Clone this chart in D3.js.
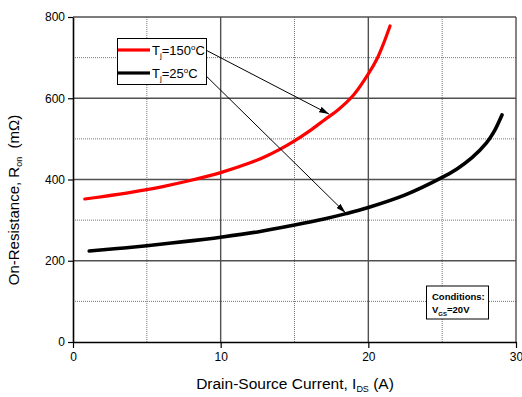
<!DOCTYPE html>
<html>
<head>
<meta charset="utf-8">
<script src="https://cdn.jsdelivr.net/npm/d3@7"></script>
<style>
  html, body { margin: 0; padding: 0; background: #fff; }
  svg { display: block; font-family: "Liberation Sans", Arial, sans-serif; }
</style>
</head>
<body>
<svg id="chart" width="522" height="397"></svg>
<script>
// On-resistance vs drain-source current at two junction temperatures
const current150 = [0.8, 2, 4, 6, 8, 10, 12, 13, 14, 15, 16, 17, 18, 19, 20, 20.6, 21, 21.47];
const ron150     = [352, 358, 369, 382, 398, 417, 441, 456, 474, 495, 519, 546, 573, 608, 660, 698, 732, 778];

const current25 = [1.1, 3, 5, 7.5, 10, 12.5, 15, 17, 18.5, 20, 22.5, 25, 26, 27, 28, 28.5, 29.05];
const ron25     = [224, 230, 237, 247, 258, 271, 288, 303, 316, 331, 362, 405, 426, 453, 490, 517, 559];

const xTicks = [0, 10, 20, 30];
const yTicks = [0, 200, 400, 600, 800];
const xMinor = [5, 15, 25];
const yMinor = [100, 300, 500, 700];

// Annotation arrow targets (current, resistance)
const arrow150 = [17.34, 561];
const arrow25  = [18.45, 318];

const margin = { top: 17, right: 6, bottom: 55, left: 73 };
const W = 522, H = 397;
const svg = d3.select("#chart");

const x = d3.scaleLinear().domain([0, 30]).range([margin.left, W - margin.right]);
const y = d3.scaleLinear().domain([0, 800]).range([H - margin.bottom, margin.top]);

// grid
const grid = svg.append("g");
grid.selectAll(".vmin").data(xMinor).join("line")
  .attr("x1", d => x(d)).attr("x2", d => x(d))
  .attr("y1", y(0)).attr("y2", y(800))
  .attr("stroke", "#777").attr("stroke-width", 1).attr("stroke-dasharray", "1,1");
grid.selectAll(".hmin").data(yMinor).join("line")
  .attr("x1", x(0)).attr("x2", x(30))
  .attr("y1", d => y(d)).attr("y2", d => y(d))
  .attr("stroke", "#777").attr("stroke-width", 1).attr("stroke-dasharray", "1,1");
grid.selectAll(".vmaj").data(xTicks.slice(1)).join("line")
  .attr("x1", d => x(d)).attr("x2", d => x(d))
  .attr("y1", y(0)).attr("y2", y(800))
  .attr("stroke", "#505050").attr("stroke-width", 1.4);
grid.selectAll(".hmaj").data(yTicks.slice(1)).join("line")
  .attr("x1", x(0)).attr("x2", x(30))
  .attr("y1", d => y(d)).attr("y2", d => y(d))
  .attr("stroke", "#505050").attr("stroke-width", 1.4);

// axes
const xAxis = svg.append("g")
  .attr("transform", `translate(0,${y(0)})`)
  .call(d3.axisBottom(x).tickValues(xTicks).tickSize(6).tickSizeOuter(0).tickPadding(4));
const yAxis = svg.append("g")
  .attr("transform", `translate(${x(0)},0)`)
  .call(d3.axisLeft(y).tickValues(yTicks).tickSize(5).tickSizeOuter(0).tickPadding(3));
[xAxis, yAxis].forEach(a => {
  a.select(".domain").attr("stroke", "#000").attr("stroke-width", 1.6);
  a.selectAll(".tick line").attr("stroke", "#000").attr("stroke-width", 1.2);
  a.selectAll(".tick text").attr("font-size", 12).attr("fill", "#000")
    .attr("font-family", "Liberation Sans, Arial, sans-serif");
});

// curves
const line = d3.line().x(d => x(d[0])).y(d => y(d[1])).curve(d3.curveCatmullRom.alpha(0.5));
svg.append("path").datum(d3.zip(current150, ron150)).attr("d", line)
  .attr("fill", "none").attr("stroke", "#ff0000").attr("stroke-width", 3.2)
  .attr("stroke-linecap", "round");
svg.append("path").datum(d3.zip(current25, ron25)).attr("d", line)
  .attr("fill", "none").attr("stroke", "#000").attr("stroke-width", 3.6)
  .attr("stroke-linecap", "round");

// arrowhead marker
svg.append("defs").append("marker")
  .attr("id", "head").attr("markerUnits", "userSpaceOnUse")
  .attr("viewBox", "0 0 10 6").attr("refX", 10).attr("refY", 3)
  .attr("markerWidth", 10).attr("markerHeight", 6).attr("orient", "auto")
  .append("path").attr("d", "M0,0 L10,3 L0,6 Z").attr("fill", "#000");

// legend
const lg = svg.append("g");
lg.append("rect").attr("x", 117.5).attr("y", 38.5).attr("width", 89).attr("height", 46)
  .attr("fill", "#fff").attr("stroke", "#000").attr("stroke-width", 1);
const entries = [
  { color: "#ff0000", temp: "150", ly: 50, target: arrow150, dy: 0.5 },
  { color: "#000", temp: "25", ly: 73, target: arrow25, dy: 3.5 }
];
entries.forEach(e => {
  lg.append("line").attr("x1", 118).attr("x2", 150).attr("y1", e.ly).attr("y2", e.ly)
    .attr("stroke", e.color).attr("stroke-width", 3.2);
  const t = lg.append("text").attr("x", 152).attr("y", e.ly + 5).attr("font-size", 13).attr("fill", "#000");
  t.append("tspan").text("T");
  t.append("tspan").attr("font-size", 8).attr("dy", 3).text("j");
  t.append("tspan").attr("dy", -3).text("=" + e.temp);
  t.append("tspan").attr("font-size", 8).attr("dy", -5).text("o");
  t.append("tspan").attr("dy", 5).text("C");
  svg.append("line").attr("x1", 206.7).attr("y1", e.ly + e.dy)
    .attr("x2", x(e.target[0])).attr("y2", y(e.target[1]))
    .attr("stroke", "#000").attr("stroke-width", 1).attr("marker-end", "url(#head)");
});

// conditions note
const cg = svg.append("g");
cg.append("rect").attr("x", 426.5).attr("y", 286).attr("width", 62).attr("height", 33)
  .attr("fill", "#fff").attr("stroke", "#000").attr("stroke-width", 1);
cg.append("text").attr("x", 432).attr("y", 299.5).attr("font-size", 9.5).attr("font-weight", "bold")
  .text("Conditions:");
const vt = cg.append("text").attr("x", 432).attr("y", 313).attr("font-size", 9.5).attr("font-weight", "bold");
vt.append("tspan").text("V");
vt.append("tspan").attr("font-size", 6).attr("dy", 2.5).text("GS");
vt.append("tspan").attr("dy", -2.5).text("=20V");

// axis titles
const xt = svg.append("text").attr("x", 295).attr("y", 389).attr("text-anchor", "middle")
  .attr("font-size", 15.5).attr("fill", "#000");
xt.append("tspan").text("Drain-Source Current, I");
xt.append("tspan").attr("font-size", 9).attr("dy", 3).text("DS");
xt.append("tspan").attr("dy", -3).text(" (A)");

const yt = svg.append("text").attr("transform", "translate(19,200) rotate(-90)")
  .attr("text-anchor", "middle").attr("font-size", 15).attr("fill", "#000");
yt.append("tspan").text("On-Resistance, R");
yt.append("tspan").attr("font-size", 9).attr("dy", 3).text("on");
yt.append("tspan").attr("dy", -3).text("\u00a0 (m\u03a9)");
</script>
</body>
</html>
